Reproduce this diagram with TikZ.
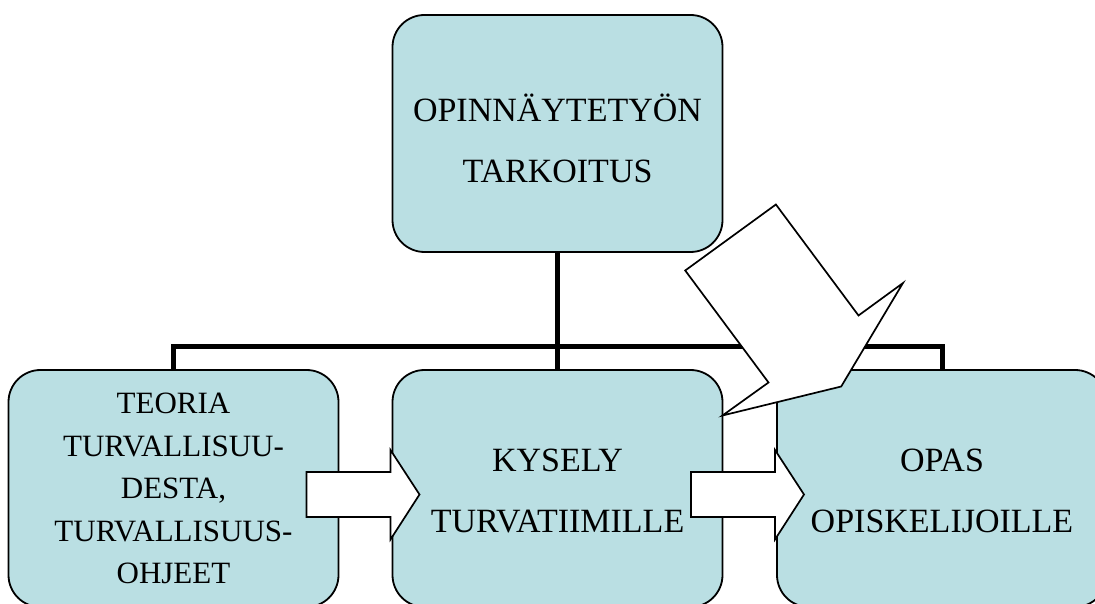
\documentclass[tikz,border=0pt]{standalone}
\usepackage{fontspec}
\setmainfont{Liberation Serif}
\usepackage{tikz}
\usetikzlibrary{positioning, calc}
\definecolor{boxfill}{RGB}{186,223,227}

\begin{document}
\begin{tikzpicture}[x=1pt, y=1pt, box/.style={draw, fill=boxfill, line width=1.8pt, outer sep=0pt, rounded corners=32pt, minimum width=330pt, minimum height=237pt, align=center, inner sep=3pt}, big/.style={font=\fontsize{34}{61}\selectfont, text height=88pt, text depth=0pt}, small/.style={font=\fontsize{31}{42.5}\selectfont}, branch/.style={line width=5pt}, push/.style={draw, fill=white, line width=1.7pt, line join=miter}, node distance=54pt]
    \useasboundingbox (0,0) rectangle (1095,603);
    \clip (0,0) rectangle (1095,603);

    \node(theory)[box, small] at (173.5,114.5)
        { TEORIA \\ TURVALLISUU- \\ DESTA, \\ TURVALLISUUS- \\ OHJEET };
    \node(survey)[box, big, right=of theory]
        { KYSELY \\ TURVATIIMILLE };
    \node(guide)[box, big, right=54.5pt of survey]
        { OPAS \\ OPISKELIJOILLE };
    \node(purpose)[box, big, text height=99pt, above=118pt of survey]
        { OPINNÄYTETYÖN \\ TARKOITUS };

    \draw[branch] (purpose.south) -- ++(0,-95) coordinate (fork);
    \draw[branch] (theory.north) |- (fork) -| (guide.north);
    \draw[branch] (fork) -- (survey.north);

    % block arrows into the boxes
    \foreach \target in {survey, guide}
        \draw[push, shift={(\target.west)}] (-86,16.5) -- (-2,16.5) -- (-2,38.5)
            -- (27,-6) -- (-2,-51) -- (-2,-28.5) -- (-86,-28.5) -- cycle;

    \draw[push, shift={(survey.east)}]
        (53.4,284) -- (-37.3,218) -- (46,106) -- (0,73) -- (118.7,102)
        -- (180.4,205.4) -- (136,173) -- cycle;
\end{tikzpicture}
\end{document}
